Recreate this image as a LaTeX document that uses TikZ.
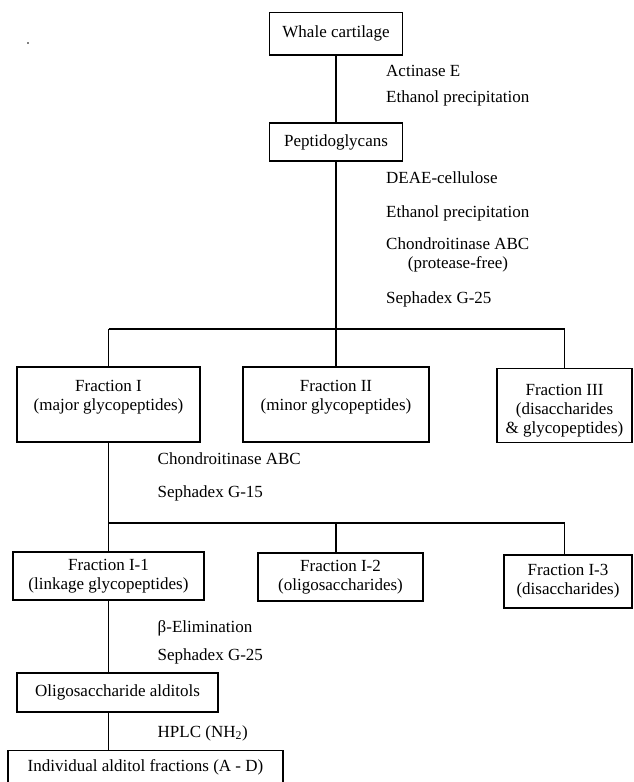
\documentclass[tikz,border=0pt]{standalone}
\usepackage{fontspec}
\setmainfont{Liberation Serif}
\begin{document}
\begin{tikzpicture}[x=1pt,y=-1pt,
  every node/.style={font=\fontsize{17}{19}\selectfont},
  box/.style={draw, line width=1.1pt, inner sep=0pt},
  lbl/.style={anchor=west, inner sep=0pt},
  txt/.style={align=center, inner sep=0pt},
  conn/.style={line width=1.1pt}]
\useasboundingbox (0,0) rectangle (633,782);
\fill (28,43) circle (0.9);
% top column
\node[box, minimum width=133pt, minimum height=42.5pt] (whale) at (336,33.75) {Whale cartilage};
\node[box, minimum width=133pt, minimum height=38pt] (pepti) at (336,142) {Peptidoglycans};
\node[lbl] (l1) at (386,71) {Actinase E};
\node[lbl] (l2) at (386,98) {Ethanol precipitation};
\node[lbl] (l3) at (386,178) {DEAE-cellulose};
\node[lbl] (l4) at (386,213) {Ethanol precipitation};
\node[lbl] (l5) at (386,244) {Chondroitinase ABC};
\node[txt] (l6) at (458,264) {(protease-free)};
\node[lbl] (l7) at (386,299) {Sephadex G-25};
% first fractions
\node[box, minimum width=183pt, minimum height=75pt] (fI) at (108.5,404.5) {};
\node[txt] (fIt) at (108.5,397) {Fraction I\\(major glycopeptides)};
\node[box, minimum width=186pt, minimum height=75pt] (fII) at (336,404.5) {};
\node[txt] (fIIt) at (336,397) {Fraction II\\(minor glycopeptides)};
\node[box, minimum width=135pt, minimum height=74pt] (fIII) at (564.5,405.5) {};
\node[txt] (fIIIt) at (564.5,411) {Fraction III\\(disaccharides\\\&\ glycopeptides)};
\coordinate (h1L) at (108.5,329);
\coordinate (h1R) at (564.5,329);
\draw[conn] (whale.south) -- (pepti.north);
\draw[conn] (pepti.south) -- (fII.north);
\draw[conn] (h1L) -- (h1R);
\draw[conn] (h1L) -- (fI.north);
\draw[conn] (h1R) -- (fIII.north);
% second step
\node[lbl] (l8) at (157.5,459) {Chondroitinase ABC};
\node[lbl] (l9) at (157.5,493) {Sephadex G-15};
\node[box, minimum width=191pt, minimum height=48pt, txt] (fI1) at (108.5,576) {Fraction I-1\\(linkage glycopeptides)};
\node[box, minimum width=165pt, minimum height=48pt, txt] (fI2) at (340.5,577) {Fraction I-2\\(oligosaccharides)};
\node[box, minimum width=128pt, minimum height=53pt, txt] (fI3) at (568,581.5) {Fraction I-3\\(disaccharides)};
\coordinate (h2L) at (108.5,523);
\coordinate (h2M) at (336,523);
\coordinate (h2R) at (564.5,523);
\draw[conn] (fI.south) -- (fI1.north);
\draw[conn] (h2L) -- (h2R);
\draw[conn] (h2M) -- (h2M |- fI2.north);
\draw[conn] (h2R) -- (h2R |- fI3.north);
% third step
\node[lbl] (l10) at (157.5,628) {β-Elimination};
\node[lbl] (l11) at (157.5,656) {Sephadex G-25};
\node[box, minimum width=201pt, minimum height=39pt] (oligo) at (117.5,692.5) {Oligosaccharide alditols};
\node[lbl] (l12) at (157.5,733) {HPLC (NH\textsubscript{2})};
\node[box, minimum width=275pt, minimum height=32.5pt] (indiv) at (145.5,767) {Individual alditol fractions (A - D)};
\coordinate (o1) at (fI1.south |- oligo.north);
\coordinate (o2) at (fI1.south |- oligo.south);
\coordinate (o3) at (fI1.south |- indiv.north);
\draw[conn] (fI1.south) -- (o1);
\draw[conn] (o2) -- (o3);
\end{tikzpicture}
\end{document}
